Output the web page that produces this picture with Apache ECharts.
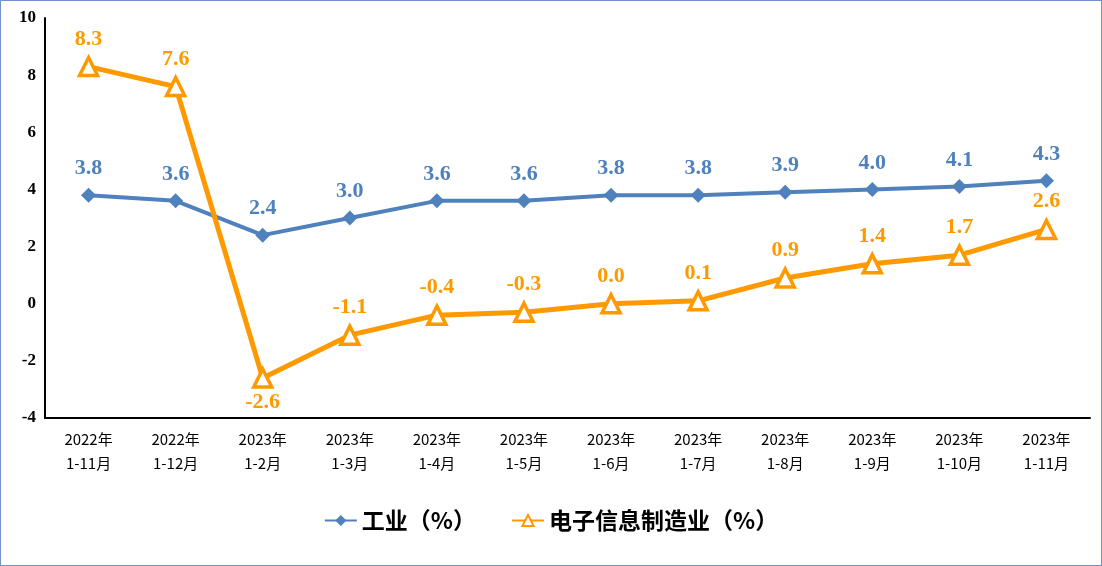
<!DOCTYPE html>
<html><head><meta charset="utf-8">
<script src="https://cdn.jsdelivr.net/npm/echarts@6/dist/echarts.min.js"></script>
<style>
html,body{margin:0;padding:0;background:#fff;}
#c{width:1102px;height:566px;box-sizing:border-box;border:1px solid #6f93c8;}
</style></head>
<body><div id="c"></div>
<script>
const categories = ['2022年\n1-11月','2022年\n1-12月','2023年\n1-2月','2023年\n1-3月','2023年\n1-4月','2023年\n1-5月','2023年\n1-6月','2023年\n1-7月','2023年\n1-8月','2023年\n1-9月','2023年\n1-10月','2023年\n1-11月'];
const industry = [3.8,3.6,2.4,3.0,3.6,3.6,3.8,3.8,3.9,4.0,4.1,4.3];
const electronics = [8.3,7.6,-2.6,-1.1,-0.4,-0.3,0.0,0.1,0.9,1.4,1.7,2.6];
const seriesNames = ['工业（%）','电子信息制造业（%）'];

const chart = echarts.init(document.getElementById('c'), null, {renderer:'canvas'});
const blue = '#4f81bd', orange = '#ff9900';
const labelFont = {fontFamily:'Liberation Serif', fontWeight:'bold', fontSize:22};
const elecData = electronics.map((v,i)=> v < -2 ? {value:v, label:{position:'bottom', distance:3}} : v);
chart.setOption({
  animation:false,
  grid:{left:44, right:11, top:17, bottom:147},
  legend:{
    bottom:28, left:'center', itemGap:35, itemWidth:32, itemHeight:14,
    textStyle:{fontFamily:'Noto Sans CJK SC', fontWeight:'bold', fontSize:23, color:'#000'},
    data:seriesNames
  },
  xAxis:{
    type:'category', data:categories, boundaryGap:true,
    axisLine:{onZero:false, lineStyle:{color:'#000', width:2}},
    axisTick:{show:false},
    axisLabel:{fontFamily:'Noto Sans CJK SC', fontSize:15, color:'#000', lineHeight:24, margin:9}
  },
  yAxis:{
    type:'value', min:-4, max:10, interval:2,
    axisLine:{show:true, lineStyle:{color:'#000', width:2}},
    axisTick:{show:false},
    splitLine:{show:false},
    axisLabel:{fontFamily:'Liberation Serif', fontWeight:'bold', fontSize:17, color:'#000', margin:9}
  },
  series:[
    {
      name:seriesNames[0], type:'line', data:industry,
      symbol:'diamond', symbolSize:15,
      lineStyle:{color:blue, width:4},
      itemStyle:{color:blue},
      label:{show:true, position:'top', distance:8, color:blue, formatter:p=>p.value.toFixed(1), ...labelFont},
      z:2
    },
    {
      name:seriesNames[1], type:'line', data:elecData,
      symbol:'triangle', symbolSize:18, showAllSymbol:true,
      lineStyle:{color:orange, width:5},
      itemStyle:{color:'#fff', borderColor:orange, borderWidth:3.5},
      label:{show:true, position:'top', distance:6, color:orange, formatter:p=>Number(p.value).toFixed(1), ...labelFont},
      z:3
    }
  ]
});
</script></body></html>
